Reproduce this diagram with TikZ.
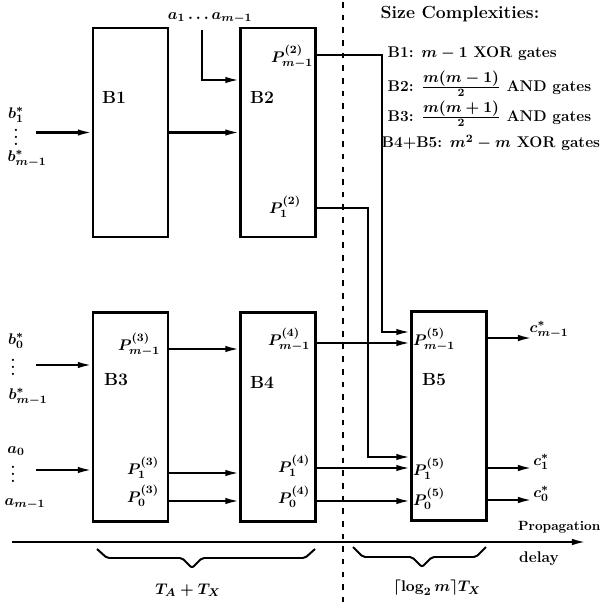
\documentclass[tikz,border=0pt]{standalone}
\usepackage{amsmath,amssymb}
\usepackage{tikz}
\usetikzlibrary{positioning,calc}
\usetikzlibrary{arrows.meta}
\tikzset{
  blk/.style={draw=black,line width=1.6pt,minimum width=1.875cm,minimum height=5.225cm,inner sep=0pt},
  wire/.style={draw=black,line width=1.5pt},
  sig/.style={wire,-{Latex[length=10pt,width=4.6pt]}},
  lab/.style={inner sep=1pt,font=\fontsize{11}{13}\selectfont\bfseries},
  dots/.style={inner sep=0pt,align=center,font=\fontsize{11}{5}\selectfont\bfseries},
  bname/.style={inner sep=0pt,font=\fontsize{12.5}{14}\selectfont\bfseries},
  brace/.style={draw=black,line width=1.4pt,rounded corners=1.5pt},
  cut/.style={draw=black,line width=1.2pt,dash pattern=on 4pt off 5pt},
}
\begin{document}
\boldmath
\begin{tikzpicture}[x=0.025cm,y=-0.025cm]
\useasboundingbox (0,0) rectangle (602,605);
% time cut
\draw[cut] (343,2) -- (343,605);
% blocks
\node[blk] (B1) at (130.5,132.5) {};
\node[blk] (B2) at (278,132.5) {};
\node[blk] (B3) at (130.5,417) {};
\node[blk] (B4) at (278,417) {};
\node[blk] (B5) at (449,416) {};
\node[bname] at (114,97) {B1};
\node[bname] at (262,97) {B2};
\node[bname] at (116,380) {B3};
\node[bname] at (262,382) {B4};
\node[bname] at (434,380) {B5};
% signal points
\coordinate (bin1) at (36,132.5);
\coordinate (atop) at (202,30);
\coordinate (ain) at (202,80);
\coordinate (bin3) at (36,365);
\coordinate (ain3) at (36,470);
\coordinate (q2a) at (382,55);
\coordinate (q2b) at (382,332);
\coordinate (q1a) at (368,208);
\coordinate (q1b) at (368,457);
\coordinate (r3a) at (0,349);
\coordinate (r3b) at (0,473);
\coordinate (r3c) at (0,501);
\coordinate (r4a) at (0,343);
\coordinate (r4b) at (0,468);
\coordinate (r4c) at (0,501);
\coordinate (cout1) at (532,338);
\coordinate (cout2) at (532,468);
\coordinate (cout3) at (532,500);
% connectors
\draw[sig] (bin1) -- (B1.west);
\draw[sig] (B1.east) -- (B2.west);
\draw[sig] (atop) -- (ain) -- (B2.west |- ain);
\draw[sig] (B2.east |- q2a) -- (q2a) -- (q2b) -- (B5.west |- q2b);
\draw[sig] (B2.east |- q1a) -- (q1a) -- (q1b) -- (B5.west |- q1b);
\draw[sig] (bin3) -- (B3.west |- bin3);
\draw[sig] (ain3) -- (B3.west |- ain3);
\draw[sig] (B3.east |- r3a) -- (B4.west |- r3a);
\draw[sig] (B3.east |- r3b) -- (B4.west |- r3b);
\draw[sig] (B3.east |- r3c) -- (B4.west |- r3c);
\draw[sig] (B4.east |- r4a) -- (B5.west |- r4a);
\draw[sig] (B4.east |- r4b) -- (B5.west |- r4b);
\draw[sig] (B4.east |- r4c) -- (B5.west |- r4c);
\draw[sig] (B5.east |- cout1) -- (cout1);
\draw[sig] (B5.east |- cout2) -- (cout2);
\draw[sig] (B5.east |- cout3) -- (cout3);
% inputs
\node[lab] at (16,115) {$b^*_1$};
\node[dots] at (16,137) {.\\.\\.};
\node[lab] at (27,159) {$b^*_{m-1}$};
\node[lab] at (210,18) {$a_1\ldots a_{m-1}$};
\node[lab] at (16,341) {$b^*_0$};
\node[dots] at (13,367) {.\\.\\.};
\node[lab] at (28,397) {$b^*_{m-1}$};
\node[lab] at (16,451) {$a_0$};
\node[dots] at (13,474) {.\\.\\.};
\node[lab] at (25,504) {$a_{m-1}$};
% partial products
\node[lab] at (292,57) {$P^{(2)}_{m-1}$};
\node[lab] at (285,207) {$P^{(2)}_1$};
\node[lab] at (139,345) {$P^{(3)}_{m-1}$};
\node[lab] at (143,468) {$P^{(3)}_1$};
\node[lab] at (143,496) {$P^{(3)}_0$};
\node[lab] at (289,340) {$P^{(4)}_{m-1}$};
\node[lab] at (294,466) {$P^{(4)}_1$};
\node[lab] at (294,497) {$P^{(4)}_0$};
\node[lab] at (434,340) {$P^{(5)}_{m-1}$};
\node[lab] at (429,469) {$P^{(5)}_1$};
\node[lab] at (429,499) {$P^{(5)}_0$};
% outputs
\node[lab] at (549,330) {$c^*_{m-1}$};
\node[lab] at (541,462) {$c^*_1$};
\node[lab] at (541,494) {$c^*_0$};
% delay axis
\coordinate (t0) at (12,542);
\coordinate (t1) at (586,542);
\draw[sig] (t0) -- (t1);
\node[lab,font=\fontsize{9.5}{11}\selectfont\bfseries,anchor=east] at (602,527) {Propagation};
\node[lab] at (539,559) {delay};
\draw[brace] (97,549) -- (107,558) -- (182,558) -- (192,568) -- (202,558) -- (305,558) -- (315,549);
\draw[brace] (353,547) -- (363,557) -- (412,557) -- (422,567) -- (432,557) -- (476,557) -- (486,547);
\node[lab] at (188,590) {$T_A+T_X$};
\node[lab] at (437,588) {$\lceil\log_2 m\rceil T_X$};
% complexities
\node[bname,font=\fontsize{12.5}{15}\selectfont\bfseries] at (460,14) {Size Complexities:};
\node[lab,anchor=west] at (386,54) {B1: $m-1$ XOR gates};
\node[lab,anchor=west] at (386,84) {B2: $\frac{\textstyle m(m-1)}{2}$ AND gates};
\node[lab,anchor=west] at (386,114) {B3: $\frac{\textstyle m(m+1)}{2}$ AND gates};
\node[lab,anchor=west] at (380,143) {B4+B5: $m^2-m$ XOR gates};
\end{tikzpicture}
\end{document}
